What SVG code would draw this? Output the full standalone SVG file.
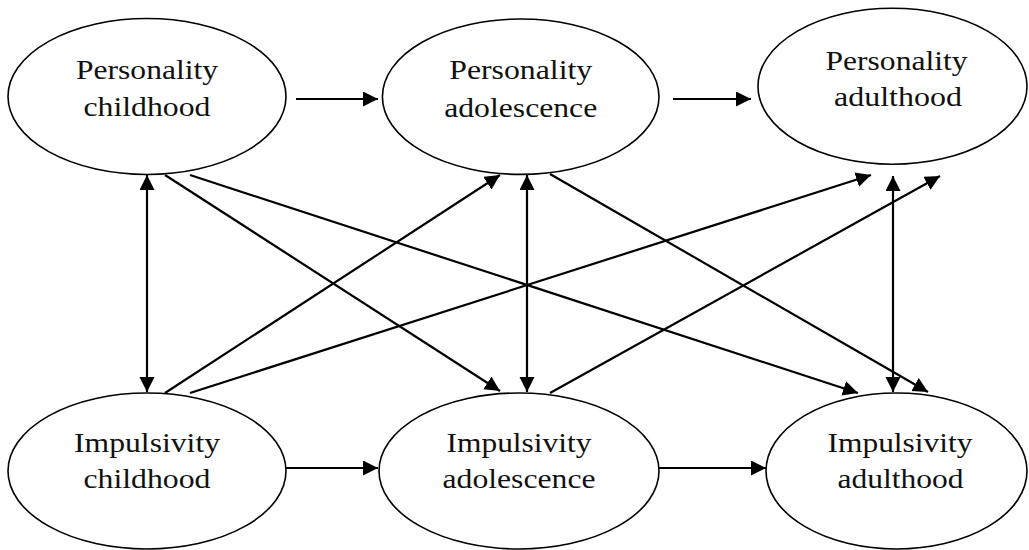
<svg xmlns="http://www.w3.org/2000/svg" width="1029" height="550" viewBox="0 0 1029 550">
<style>
.node ellipse{fill:#fff;stroke:#000;stroke-width:1.6}
.node text{font-family:"Liberation Serif","Times New Roman",serif;font-size:32px;fill:#111;text-anchor:middle}
.edges line{stroke:#000;stroke-width:2.2;fill:none}
.one{marker-end:url(#ah)}
.two{marker-end:url(#ah);marker-start:url(#ah)}
</style>
<defs>
<marker id="ah" markerUnits="userSpaceOnUse" markerWidth="16" markerHeight="16" refX="15" refY="7.5" orient="auto-start-reverse">
<path d="M0,0 L15,7.5 L0,15 z" fill="#000"/>
</marker>
</defs>
<rect width="1029" height="550" fill="#fff"/>
<g id="pers-child" class="node">
<ellipse cx="147" cy="96.5" rx="139" ry="78"/>
<text transform="translate(147,79) scale(1,0.85)" textLength="142" lengthAdjust="spacingAndGlyphs">Personality</text>
<text transform="translate(147,116) scale(1,0.85)" textLength="127" lengthAdjust="spacingAndGlyphs">childhood</text>
</g>
<g id="pers-adol" class="node">
<ellipse cx="520.7" cy="96.7" rx="138.3" ry="77.7"/>
<text transform="translate(520.7,79) scale(1,0.85)" textLength="143" lengthAdjust="spacingAndGlyphs">Personality</text>
<text transform="translate(520.7,116.5) scale(1,0.85)" textLength="153" lengthAdjust="spacingAndGlyphs">adolescence</text>
</g>
<g id="pers-adult" class="node">
<ellipse cx="892.5" cy="86.3" rx="134.5" ry="78"/>
<text transform="translate(896.5,70) scale(1,0.85)" textLength="142" lengthAdjust="spacingAndGlyphs">Personality</text>
<text transform="translate(898,106) scale(1,0.85)" textLength="128" lengthAdjust="spacingAndGlyphs">adulthood</text>
</g>
<g id="imp-child" class="node">
<ellipse cx="147" cy="471" rx="139" ry="78"/>
<text transform="translate(147,451.7) scale(1,0.85)" textLength="146" lengthAdjust="spacingAndGlyphs">Impulsivity</text>
<text transform="translate(147,488.3) scale(1,0.85)" textLength="127" lengthAdjust="spacingAndGlyphs">childhood</text>
</g>
<g id="imp-adol" class="node">
<ellipse cx="519" cy="471" rx="140" ry="78"/>
<text transform="translate(519,451.7) scale(1,0.85)" textLength="145" lengthAdjust="spacingAndGlyphs">Impulsivity</text>
<text transform="translate(519,488.3) scale(1,0.85)" textLength="153" lengthAdjust="spacingAndGlyphs">adolescence</text>
</g>
<g id="imp-adult" class="node">
<ellipse cx="896.5" cy="471" rx="130.5" ry="78"/>
<text transform="translate(900,451.7) scale(1,0.85)" textLength="145" lengthAdjust="spacingAndGlyphs">Impulsivity</text>
<text transform="translate(900.5,488.3) scale(1,0.85)" textLength="126" lengthAdjust="spacingAndGlyphs">adulthood</text>
</g>
<g id="connectors" class="edges">
<line class="one" x1="296" y1="99" x2="378" y2="99"/>
<line class="one" x1="673" y1="99" x2="751" y2="99"/>
<line class="one" x1="286" y1="468" x2="378" y2="468"/>
<line class="one" x1="659" y1="468" x2="766" y2="468"/>
<line class="two" x1="147" y1="175" x2="147" y2="392"/>
<line class="two" x1="527" y1="175" x2="527" y2="392"/>
<line class="two" x1="893" y1="176" x2="893" y2="392"/>
<line class="one" x1="165" y1="175" x2="500" y2="391"/>
<line class="one" x1="190" y1="175" x2="858" y2="393"/>
<line class="one" x1="165" y1="393" x2="500" y2="175"/>
<line class="one" x1="190" y1="393" x2="871" y2="175"/>
<line class="one" x1="550" y1="174" x2="928" y2="392"/>
<line class="one" x1="550" y1="393" x2="940" y2="176"/>
</g>
</svg>
